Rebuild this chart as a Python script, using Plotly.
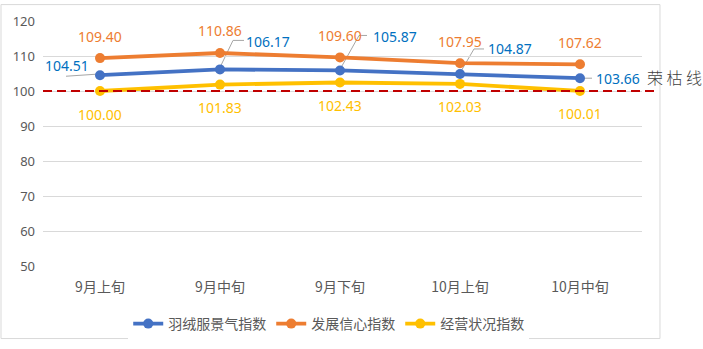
import plotly.graph_objects as go

# Ten-day periods
periods = ["9月上旬", "9月中旬", "9月下旬", "10月上旬", "10月中旬"]

# Index series
down_index = [104.51, 106.17, 105.87, 104.87, 103.66]      # 羽绒服景气指数
confidence_index = [109.40, 110.86, 109.60, 107.95, 107.62]  # 发展信心指数
operation_index = [100.00, 101.83, 102.43, 102.03, 100.01]   # 经营状况指数

boom_bust_line = 100
y_ticks = [50, 60, 70, 80, 90, 100, 110, 120]

series = [
    ("羽绒服景气指数", down_index, "#4472C4"),
    ("发展信心指数", confidence_index, "#ED7D31"),
    ("经营状况指数", operation_index, "#FFC000"),
]

CJK = "Noto Sans CJK SC"
NUM = "Noto Sans"

fig = go.Figure()
for name, vals, color in series:
    fig.add_trace(go.Scatter(
        x=periods, y=vals, name=name, mode="lines+markers",
        line=dict(color=color, width=3.8),
        marker=dict(color=color, size=10),
        hoverinfo="skip",
    ))

# Label offsets (pixels) relative to each point
blue_off = [(-33, 10), (48, 28), (55, 34), (50, 25), (38, 0)]
# Leader lines for the blue labels (pixel paths relative to the point)
blue_leaders = [
    "M-4,1 L-34,-1",
    "M0,2 L13,29 L24,29",
    "M0,1 L19,35 L27,35",
    "M0,1 L14,25 L24,25",
    "M4,0 L12,0",
]

annotations = []
shapes = []
for i, p in enumerate(periods):
    annotations.append(dict(
        x=p, y=confidence_index[i], text=f"{confidence_index[i]:.2f}",
        showarrow=False, xshift=0, yshift=22,
        font=dict(family=NUM, size=14, color="#ED7D31")))
    annotations.append(dict(
        x=p, y=operation_index[i], text=f"{operation_index[i]:.2f}",
        showarrow=False, xshift=0, yshift=-23,
        font=dict(family=NUM, size=14, color="#FFC000")))
    dx, dy = blue_off[i]
    annotations.append(dict(
        x=p, y=down_index[i], text=f"{down_index[i]:.2f}",
        showarrow=False, xshift=dx, yshift=dy,
        font=dict(family=NUM, size=14, color="#0070C0")))
    shapes.append(dict(
        type="path", xref="x", yref="y",
        xsizemode="pixel", ysizemode="pixel",
        xanchor=p, yanchor=down_index[i],
        path=blue_leaders[i],
        line=dict(color="#A6A6A6", width=1), layer="below"))

# Boom-bust reference line
shapes.append(dict(
    type="line", xref="paper", yref="y",
    x0=0, x1=1.028, y0=boom_bust_line, y1=boom_bust_line,
    line=dict(color="#C00000", width=2, dash="9px,5px"), layer="above"))

# Chart border
shapes.append(dict(
    type="rect", xref="paper", yref="paper",
    x0=-0.0701, x1=1.030, y0=-0.296, y1=1.067,
    line=dict(color="#D9D9D9", width=1), layer="below"))

annotations.append(dict(
    xref="paper", yref="y", x=1.005, y=boom_bust_line,
    xanchor="left", yanchor="bottom", yshift=0,
    text="荣 枯 线", showarrow=False,
    font=dict(family=CJK, size=16, color="#3F3F3F", weight=300)))

fig.update_layout(
    width=703, height=349,
    margin=dict(l=43, r=61, t=18, b=78),
    paper_bgcolor="white", plot_bgcolor="white",
    showlegend=True,
    legend=dict(
        orientation="h", x=0.477, xanchor="center",
        yref="container", y=0.0716, yanchor="middle",
        font=dict(family=CJK, size=14, color="#595959"),
        itemwidth=30, tracegroupgap=0,
    ),
    annotations=annotations,
    shapes=shapes,
    hovermode=False,
)
fig.update_xaxes(
    type="category", showgrid=False, zeroline=False, showline=False,
    ticks="", ticklabelstandoff=11,
    tickfont=dict(family=CJK, size=14, color="#595959"),
)
fig.update_yaxes(
    range=[50, 120], tickvals=y_ticks, showgrid=True, gridcolor="#D9D9D9",
    gridwidth=1, zeroline=False, showline=False, ticks="",
    ticklabelstandoff=7,
    tickfont=dict(family=NUM, size=13, color="#595959"),
)

fig.write_html("out.html")
